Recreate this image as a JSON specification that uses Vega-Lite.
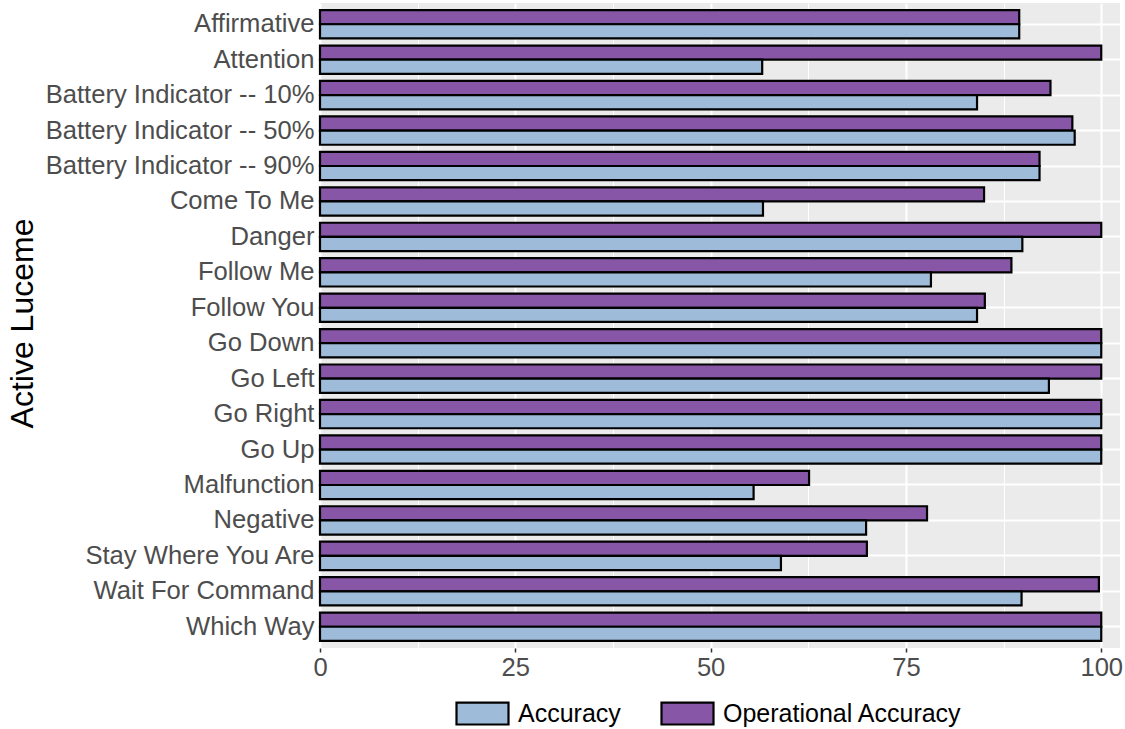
{
  "$schema": "https://vega.github.io/schema/vega-lite/v6.json",
  "width": 800,
  "height": 645,
  "autosize": {"type": "none"},
  "padding": {"left": 320, "top": 3, "right": 5, "bottom": 81},
  "background": "white",
  "config": {
    "font": "Liberation Sans",
    "view": {"fill": "#EBEBEB", "stroke": null}
  },
  "data": {
    "values": [
      {"luceme": "Affirmative", "measure": "Operational Accuracy", "value": 89.5},
      {"luceme": "Affirmative", "measure": "Accuracy", "value": 89.5},
      {"luceme": "Attention", "measure": "Operational Accuracy", "value": 100},
      {"luceme": "Attention", "measure": "Accuracy", "value": 56.6},
      {"luceme": "Battery Indicator -- 10%", "measure": "Operational Accuracy", "value": 93.5},
      {"luceme": "Battery Indicator -- 10%", "measure": "Accuracy", "value": 84.1},
      {"luceme": "Battery Indicator -- 50%", "measure": "Operational Accuracy", "value": 96.3},
      {"luceme": "Battery Indicator -- 50%", "measure": "Accuracy", "value": 96.6},
      {"luceme": "Battery Indicator -- 90%", "measure": "Operational Accuracy", "value": 92.1},
      {"luceme": "Battery Indicator -- 90%", "measure": "Accuracy", "value": 92.1},
      {"luceme": "Come To Me", "measure": "Operational Accuracy", "value": 85.0},
      {"luceme": "Come To Me", "measure": "Accuracy", "value": 56.7},
      {"luceme": "Danger", "measure": "Operational Accuracy", "value": 100},
      {"luceme": "Danger", "measure": "Accuracy", "value": 89.9},
      {"luceme": "Follow Me", "measure": "Operational Accuracy", "value": 88.5},
      {"luceme": "Follow Me", "measure": "Accuracy", "value": 78.2},
      {"luceme": "Follow You", "measure": "Operational Accuracy", "value": 85.1},
      {"luceme": "Follow You", "measure": "Accuracy", "value": 84.1},
      {"luceme": "Go Down", "measure": "Operational Accuracy", "value": 100},
      {"luceme": "Go Down", "measure": "Accuracy", "value": 100},
      {"luceme": "Go Left", "measure": "Operational Accuracy", "value": 100},
      {"luceme": "Go Left", "measure": "Accuracy", "value": 93.3},
      {"luceme": "Go Right", "measure": "Operational Accuracy", "value": 100},
      {"luceme": "Go Right", "measure": "Accuracy", "value": 100},
      {"luceme": "Go Up", "measure": "Operational Accuracy", "value": 100},
      {"luceme": "Go Up", "measure": "Accuracy", "value": 100},
      {"luceme": "Malfunction", "measure": "Operational Accuracy", "value": 62.6},
      {"luceme": "Malfunction", "measure": "Accuracy", "value": 55.5},
      {"luceme": "Negative", "measure": "Operational Accuracy", "value": 77.7},
      {"luceme": "Negative", "measure": "Accuracy", "value": 69.9},
      {"luceme": "Stay Where You Are", "measure": "Operational Accuracy", "value": 70.0},
      {"luceme": "Stay Where You Are", "measure": "Accuracy", "value": 59.0},
      {"luceme": "Wait For Command", "measure": "Operational Accuracy", "value": 99.7},
      {"luceme": "Wait For Command", "measure": "Accuracy", "value": 89.8},
      {"luceme": "Which Way", "measure": "Operational Accuracy", "value": 100},
      {"luceme": "Which Way", "measure": "Accuracy", "value": 100}
    ]
  },
  "mark": {"type": "bar", "stroke": "black", "strokeWidth": 2.2},
  "encoding": {
    "y": {
      "field": "luceme",
      "type": "nominal",
      "sort": null,
      "scale": {"paddingInner": 0.2, "paddingOuter": 0.2},
      "axis": {
        "title": "Active Luceme",
        "titleFontSize": 32,
        "titleFontWeight": "normal",
        "titleColor": "black",
        "titleX": -298,
        "titleY": 320,
        "titleAngle": -90,
        "titleAlign": "center",
        "titleBaseline": "middle",
        "labelFontSize": 25.6,
        "labelLimit": 0,
        "labelColor": "#4D4D4D",
        "labelPadding": 6,
        "ticks": false,
        "domain": false,
        "grid": true,
        "bandPosition": 0.5,
        "gridColor": "white",
        "gridWidth": 2
      }
    },
    "yOffset": {
      "field": "measure",
      "type": "nominal",
      "sort": ["Operational Accuracy", "Accuracy"],
      "scale": {"paddingInner": 0, "paddingOuter": 0}
    },
    "x": {
      "field": "value",
      "type": "quantitative",
      "scale": {"domain": [0, 102.4], "nice": false, "zero": true},
      "axis": {
        "title": null,
        "values": [0, 12.5, 25, 37.5, 50, 62.5, 75, 87.5, 100],
        "labelExpr": "datum.value % 25 === 0 ? datum.label : ''",
        "labelFlush": false,
        "labelFontSize": 25.6,
        "labelColor": "#4D4D4D",
        "labelPadding": 3,
        "tickSize": 4,
        "tickColor": "#333333",
        "tickWidth": 1.5,
        "tickOpacity": {"condition": {"test": "datum.value % 25 !== 0", "value": 0}, "value": 1},
        "domain": false,
        "grid": true,
        "gridColor": "white",
        "gridWidth": {"condition": {"test": "datum.value % 25 !== 0", "value": 1}, "value": 2}
      }
    },
    "color": {
      "field": "measure",
      "type": "nominal",
      "scale": {"domain": ["Accuracy", "Operational Accuracy"], "range": ["#9EBCDA", "#8856A7"]},
      "legend": {
        "title": null,
        "orient": "none",
        "direction": "horizontal",
        "legendX": 135,
        "legendY": 683,
        "symbolType": "M-1,-0.42H1V0.42H-1Z",
        "symbolSize": 2704,
        "symbolStrokeColor": "black",
        "symbolStrokeWidth": 2.2,
        "symbolOpacity": 1,
        "labelFontSize": 25,
        "labelLimit": 0,
        "labelColor": "black",
        "labelOffset": 8,
        "columnPadding": 36
      }
    }
  }
}
